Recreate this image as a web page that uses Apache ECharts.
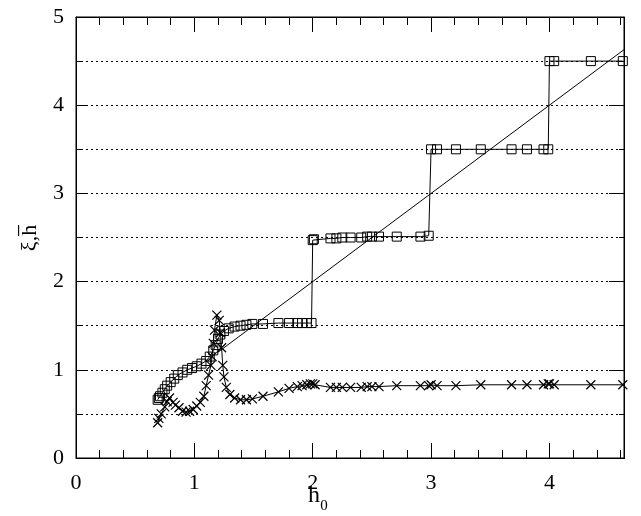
<!DOCTYPE html>
<html><head><meta charset="utf-8">
<script src="https://cdn.jsdelivr.net/npm/echarts@6/dist/echarts.min.js"></script>
<style>html,body{margin:0;padding:0;background:#fff}#c{width:641px;height:516px}</style>
</head><body><div id="c"></div>
<script>
// h-bar (squares)
const sqH0 = [0.69,0.70,0.71,0.73,0.75,0.77,0.80,0.83,0.86,0.90,0.94,0.98,1.02,1.06,1.10,1.13,1.16,1.18,1.20,1.22,1.25,1.29,1.34,1.39,1.44,1.49,1.58,1.71,1.80,1.87,1.91,1.95,1.99,2.00,2.01,2.15,2.20,2.25,2.32,2.41,2.46,2.50,2.56,2.71,2.91,2.98,3.00,3.05,3.21,3.42,3.68,3.81,3.95,3.99,4.00,4.04,4.35,4.62];
const sqHbar = [0.66,0.68,0.70,0.74,0.78,0.82,0.86,0.90,0.94,0.97,1.00,1.02,1.04,1.07,1.10,1.15,1.22,1.28,1.35,1.40,1.44,1.47,1.49,1.50,1.51,1.52,1.52,1.53,1.53,1.53,1.53,1.53,1.53,2.47,2.48,2.49,2.49,2.50,2.50,2.50,2.51,2.51,2.51,2.51,2.51,2.52,3.50,3.50,3.50,3.50,3.50,3.50,3.50,3.50,4.50,4.50,4.50,4.50];
// xi (crosses)
const xH0 = [0.69,0.70,0.72,0.75,0.77,0.79,0.82,0.84,0.87,0.90,0.93,0.96,0.99,1.02,1.05,1.08,1.10,1.12,1.14,1.15,1.16,1.17,1.19,1.21,1.22,1.23,1.24,1.25,1.27,1.30,1.34,1.39,1.44,1.49,1.58,1.71,1.80,1.87,1.91,1.95,1.98,2.00,2.02,2.15,2.20,2.25,2.32,2.41,2.46,2.50,2.56,2.71,2.91,2.98,3.00,3.05,3.21,3.42,3.68,3.81,3.95,3.99,4.00,4.04,4.35,4.62];
const xXi = [0.40,0.45,0.50,0.58,0.64,0.68,0.63,0.60,0.57,0.53,0.52,0.53,0.55,0.59,0.63,0.70,0.82,0.94,1.05,1.15,1.30,1.45,1.62,1.56,1.42,1.25,1.05,0.92,0.80,0.72,0.68,0.66,0.66,0.67,0.70,0.75,0.79,0.81,0.82,0.83,0.84,0.84,0.83,0.80,0.80,0.80,0.80,0.80,0.81,0.81,0.81,0.82,0.82,0.82,0.83,0.82,0.82,0.83,0.83,0.83,0.83,0.84,0.84,0.83,0.83,0.83];
// diagonal h-bar = h0
const diagH0 = [1.2, 4.63];
const xTickLabels = ['0','1','2','3','4'];
const yTickLabels = ['0','1','2','3','4','5'];
const XMAX = 4.63, YMAX = 5;

const G = {left:76, top:17, right:17, bottom:58, W:641, H:516};
const chart = echarts.init(document.getElementById('c'));
const FONT = 'Liberation Serif';
const blk = {color:'#000', width:1};
const dotted = {color:'#000', width:1, type:[2,3]};
function xa(pos, len, labels){
  return {type:'value', position:pos, min:0, max:XMAX, interval:1, z:20,
    axisLine:{show:true, onZero:false, lineStyle:blk},
    axisTick:{show:true, inside:false, length:-len, lineStyle:blk},
    minorTick:{show:true, splitNumber:5, length:-8, lineStyle:blk},
    axisLabel:{show:true, showMinLabel:true, showMaxLabel:false, color:labels?'#000':'rgba(0,0,0,0)', fontFamily:FONT, fontSize:22, margin:14,
      formatter:v=>(Math.abs(v-Math.round(v))<1e-6 ? (xTickLabels[Math.round(v)]||'') : '')},
    splitLine:{show:false}, minorSplitLine:{show:false}};
}
function ya(pos, len, labels, grid){
  return {type:'value', position:pos, min:0, max:YMAX, interval:1, z:20,
    axisLine:{show:true, onZero:false, lineStyle:blk},
    axisTick:{show:true, inside:false, length:-len, lineStyle:blk},
    minorTick:{show:true, splitNumber:2, length:-5, lineStyle:blk},
    axisLabel:{show:true, color:labels?'#000':'rgba(0,0,0,0)', fontFamily:FONT, fontSize:22, margin:12,
      formatter:v=>yTickLabels[Math.round(v)]},
    splitLine:{show:grid, lineStyle:dotted}, minorSplitLine:{show:grid, lineStyle:dotted}};
}
chart.setOption({
  animation:false,
  backgroundColor:'#fff',
  grid:{left:G.left, top:G.top, right:G.right, bottom:G.bottom, outerBoundsMode:'none', containLabel:false,
    show:true, borderColor:'#000', borderWidth:1, backgroundColor:'rgba(0,0,0,0)'},
  xAxis:[xa('bottom',15,true), xa('top',15,false)],
  yAxis:[ya('left',12,true,true), ya('right',15,false,false)],
  series:[
    {type:'line', data:diagH0.map(v=>[v,v]), symbol:'none', lineStyle:blk, clip:true, silent:true},
    {type:'line', data:sqH0.map((v,i)=>[v,sqHbar[i]]), symbol:'rect', symbolSize:9,
      lineStyle:blk, itemStyle:{color:'rgba(0,0,0,0)', borderColor:'#000', borderWidth:1}, clip:true},
    {type:'line', data:xH0.map((v,i)=>[v,xXi[i]]), symbol:'path://M0,0L10,10M10,0L0,10', symbolSize:9,
      lineStyle:blk, itemStyle:{color:'rgba(0,0,0,0)', borderColor:'#000', borderWidth:1.2}, clip:true}
  ],
  graphic:[
    {type:'rect', z:100, silent:true,
      shape:{x:G.left+0.5, y:G.top+0.5, width:G.W-G.left-G.right, height:G.H-G.top-G.bottom},
      style:{fill:null, stroke:'#000', lineWidth:1}},
    {type:'text', x:314, y:496, style:{text:'h', font:'24px "Liberation Serif"', fill:'#000', align:'center', verticalAlign:'middle'}},
    {type:'text', x:324, y:506, style:{text:'0', font:'15px "Liberation Serif"', fill:'#000', align:'center', verticalAlign:'middle'}},
    {type:'text', x:30, y:238, rotation:Math.PI/2, style:{text:'\u03BE,h\u0305', font:'22px "Liberation Serif"', fill:'#000', align:'center', verticalAlign:'middle'}}
  ]
});
</script></body></html>
